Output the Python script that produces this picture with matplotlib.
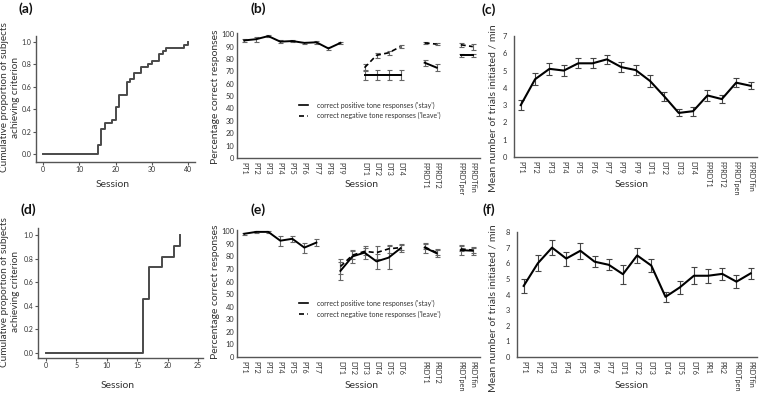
import matplotlib
matplotlib.use("Agg")
import matplotlib.pyplot as plt
import numpy as np

plt.rcParams['font.family'] = ['Lato', 'DejaVu Sans']

W, H = 760, 394

# ---------------- data ----------------
# (a) cumulative proportion, step changes
a_sessions = [0, 15, 16, 17, 19, 20, 21, 23, 24, 25, 27, 29, 30, 32, 33, 34, 39, 40]
a_values = [0.0, 0.083, 0.222, 0.278, 0.306, 0.417, 0.528, 0.639, 0.667, 0.722, 0.778, 0.806, 0.833, 0.889, 0.917, 0.944, 0.972, 1.0]

# (d)
d_sessions = [0, 16, 17, 19, 21, 22]
d_values = [0.0, 0.455, 0.727, 0.818, 0.909, 1.0]

# (b)
b_labels = ['PT1', 'PT2', 'PT3', 'PT4', 'PT5', 'PT6', 'PT7', 'PT8', 'PT9',
            'DT1', 'DT2', 'DT3', 'DT4', 'FPRDT1', 'FPRDT2', 'FPRDTper', 'FPRDTfin']
b_groups = [9, 4, 2, 2]
b_pos_mean = [95, 96, 98.5, 94, 94.5, 93, 93.5, 88.5, 93, 67, 67, 67, 67, 77, 73, 83, 83]
b_pos_err = [1, 2, 1, 1, 1, 1, 1, 1.5, 1, 4, 4, 4, 4, 2.5, 3, 1, 1]
b_neg_mean = [None] * 9 + [73, 83, 85, 90, 93, 92, 91.5, 90]
b_neg_err = [None] * 9 + [3, 2, 1.5, 1.5, 1, 1, 1.5, 2.5]

# (e)
e_labels = ['PT1', 'PT2', 'PT3', 'PT4', 'PT5', 'PT6', 'PT7',
            'DT1', 'DT2', 'DT3', 'DT4', 'DT5', 'DT6', 'PRDT1', 'PRDT2', 'PRDTpen', 'PRDTfin']
e_groups = [7, 6, 2, 2]
e_pos_mean = [98, 99.5, 99.5, 92.5, 94, 87, 91, 68.5, 80, 83, 76, 79, 86.5, 87, 82.5, 85, 84.5]
e_pos_err = [1, 0.5, 0.5, 4, 2.5, 4, 3, 7, 5, 5, 6, 9, 3, 4, 3, 4, 3]
e_neg_mean = [None] * 7 + [72, 81, 84, 83, 86, 87, 87.5, 83, 86, 85]
e_neg_err = [None] * 7 + [6, 3, 3, 5, 3, 2, 2, 2, 2, 2]

# (c)
c_labels = ['PT1', 'PT2', 'PT3', 'PT4', 'PT5', 'PT6', 'PT7', 'PT9', 'PT9',
            'DT1', 'DT2', 'DT3', 'DT4', 'FPRDT1', 'FPRDT2', 'FPRDTpen', 'FPRDTfin']
c_mean = [3.0, 4.5, 5.1, 5.0, 5.42, 5.42, 5.65, 5.2, 5.03, 4.4, 3.5, 2.55, 2.65, 3.56, 3.35, 4.3, 4.12]
c_err = [0.3, 0.35, 0.35, 0.3, 0.3, 0.3, 0.25, 0.3, 0.3, 0.35, 0.25, 0.2, 0.25, 0.3, 0.25, 0.25, 0.2]

# (f)
f_labels = ['PT1', 'PT2', 'PT3', 'PT4', 'PT5', 'PT6', 'PT7', 'DT1', 'DT2', 'DT3',
            'DT4', 'DT5', 'DT6', 'PR1', 'PR2', 'PRDTpen', 'PRDTfin']
f_mean = [4.55, 6.0, 7.0, 6.3, 6.8, 6.1, 5.9, 5.3, 6.5, 5.85, 3.85, 4.45, 5.2, 5.2, 5.32, 4.82, 5.35]
f_err = [0.45, 0.5, 0.5, 0.45, 0.5, 0.35, 0.35, 0.6, 0.5, 0.4, 0.3, 0.4, 0.55, 0.45, 0.4, 0.4, 0.35]

# ---------------- figure ----------------
fig = plt.figure(figsize=(W / 100, H / 100), dpi=100)
fig.patch.set_facecolor('white')

AX_COL = '#555555'
ERR_COL = '#666666'
TXT = '#333333'


def ax_px(l, t, r, b):
    return fig.add_axes([l / W, 1 - b / H, (r - l) / W, (b - t) / H])


def ftext(x, y, s, **kw):
    fig.text(x / W, 1 - y / H, s, ha='center', va='center', color=TXT, **kw)


def style(ax):
    for s in ['top', 'right']:
        ax.spines[s].set_visible(False)
    for s in ['left', 'bottom']:
        ax.spines[s].set_color(AX_COL)
        ax.spines[s].set_linewidth(1.0)
    ax.tick_params(colors=AX_COL, labelcolor=TXT, width=0.8)


def label(x, y, s):
    fig.text(x / W, 1 - y / H, s, fontsize=10, fontweight='bold', ha='center', va='center', color='#111111')


def group_positions(groups):
    pos = []
    p = 0
    for g in groups:
        pos.extend(range(p, p + g))
        p += g + 1
    return pos


def km_panel(ax, xs, ys, xticks, xlim, ylim):
    style(ax)
    ax.step(xs, ys, where='post', color='#4a4a4a', lw=1.4)
    ax.set_xticks(xticks)
    ax.set_yticks([0, 0.2, 0.4, 0.6, 0.8, 1.0])
    ax.set_yticklabels(['0.0', '0.2', '0.4', '0.6', '0.8', '1.0'])
    ax.set_xlim(*xlim)
    ax.set_ylim(*ylim)
    ax.tick_params(labelsize=5.0, length=2.0, direction='out', pad=1.2)


# (a)
axa = ax_px(36, 36, 195, 162)
km_panel(axa, a_sessions, a_values, [0, 10, 20, 30, 40], (-2.0, 41.9), (-0.071, 1.054))
label(26, 9, '(a)')
ftext(5, 97, 'Cumulative proportion of subjects', fontsize=7.2, rotation=90)
ftext(15.5, 97, 'achieving criterion', fontsize=7.2, rotation=90)
ftext(113, 184, 'Session', fontsize=7.5)

# (d)
axd = ax_px(38, 228, 203, 358)
km_panel(axd, d_sessions, d_values, [0, 5, 10, 15, 20, 25], (-1.26, 25.8), (-0.043, 1.06))
label(28, 210, '(d)')
ftext(5, 292, 'Cumulative proportion of subjects', fontsize=7.2, rotation=90)
ftext(15.5, 292, 'achieving criterion', fontsize=7.2, rotation=90)
ftext(118, 386, 'Session', fontsize=7.5)


def pct_panel(ax, labels, groups, pm, pe, nm, ne):
    style(ax)
    pos = group_positions(groups)
    start = 0
    for g in groups:
        idx = list(range(start, start + g))
        xs = [pos[i] for i in idx]
        ax.errorbar(xs, [pm[i] for i in idx], yerr=[pe[i] for i in idx], color='black', lw=1.4,
                    ecolor=ERR_COL, elinewidth=0.8, capsize=1.8, capthick=0.8, zorder=3)
        nidx = [i for i in idx if nm[i] is not None]
        if nidx:
            ax.errorbar([pos[i] for i in nidx], [nm[i] for i in nidx], yerr=[ne[i] for i in nidx],
                        color='black', lw=1.2, ls=(0, (3, 2)), ecolor=ERR_COL, elinewidth=0.8,
                        capsize=1.8, capthick=0.8, zorder=3)
        start += g
    ax.set_xticks(pos)
    ax.set_xticklabels(labels, rotation=-90, fontsize=5.2, color=TXT)
    ax.set_xlim(-0.6, pos[-1] + 0.6)
    ax.set_ylim(0, 101)
    ax.set_yticks(range(0, 101, 10))
    ax.tick_params(axis='y', labelsize=5.4, length=0, pad=2)
    ax.tick_params(axis='x', length=0, pad=3)
    h1, = ax.plot([], [], color='black', lw=1.2)
    h2, = ax.plot([], [], color='black', lw=1.2, ls=(0, (3, 2)))
    ax.legend([h1, h2], ["correct positive tone responses ('stay')",
                         "correct negative tone responses ('leave')"],
              loc='center left', bbox_to_anchor=(0.23, 0.38), frameon=False, fontsize=5,
              handlelength=1.3, handletextpad=1.2, labelspacing=0.5, labelcolor=TXT)


# (b)
axb = ax_px(237, 33, 480, 158)
pct_panel(axb, b_labels, b_groups, b_pos_mean, b_pos_err, b_neg_mean, b_neg_err)
label(258, 9, '(b)')
ftext(215, 97, 'Percentage correct responses', fontsize=7.5, rotation=90)
ftext(362, 184, 'Session', fontsize=7.5)

# (e)
axe = ax_px(237, 230, 480, 357)
pct_panel(axe, e_labels, e_groups, e_pos_mean, e_pos_err, e_neg_mean, e_neg_err)
label(258, 210, '(e)')
ftext(215, 292, 'Percentage correct responses', fontsize=7.5, rotation=90)
ftext(362, 386, 'Session', fontsize=7.5)


def rate_panel(ax, labels, mean, err, ymax):
    style(ax)
    x = np.arange(len(labels))
    ax.errorbar(x, mean, yerr=err, color='black', lw=1.5, ecolor='#444444', elinewidth=0.8,
                capsize=2, capthick=0.8, zorder=3)
    ax.set_xticks(x)
    ax.set_xticklabels(labels, rotation=-90, fontsize=5.2, color=TXT)
    ax.set_xlim(-0.47, len(labels) - 0.55)
    ax.set_ylim(0, ymax)
    ax.set_yticks(range(0, ymax + 1))
    ax.tick_params(axis='y', labelsize=5.4, length=0, pad=5)
    ax.tick_params(axis='x', length=0, pad=3)


# (c)
axc = ax_px(514, 36, 757, 157)
rate_panel(axc, c_labels, c_mean, c_err, 7)
label(489, 10, '(c)')
ftext(493, 108, 'Mean number of trials initiated / min', fontsize=7.5, rotation=90)
ftext(632, 184, 'Session', fontsize=7.5)

# (f)
axf = ax_px(517, 232, 757, 357)
rate_panel(axf, f_labels, f_mean, f_err, 8)
label(489, 210, '(f)')
ftext(493, 308, 'Mean number of trials initiated / min', fontsize=7.5, rotation=90)
ftext(632, 386, 'Session', fontsize=7.5)

fig.savefig('out.png', dpi=100, facecolor='white')
